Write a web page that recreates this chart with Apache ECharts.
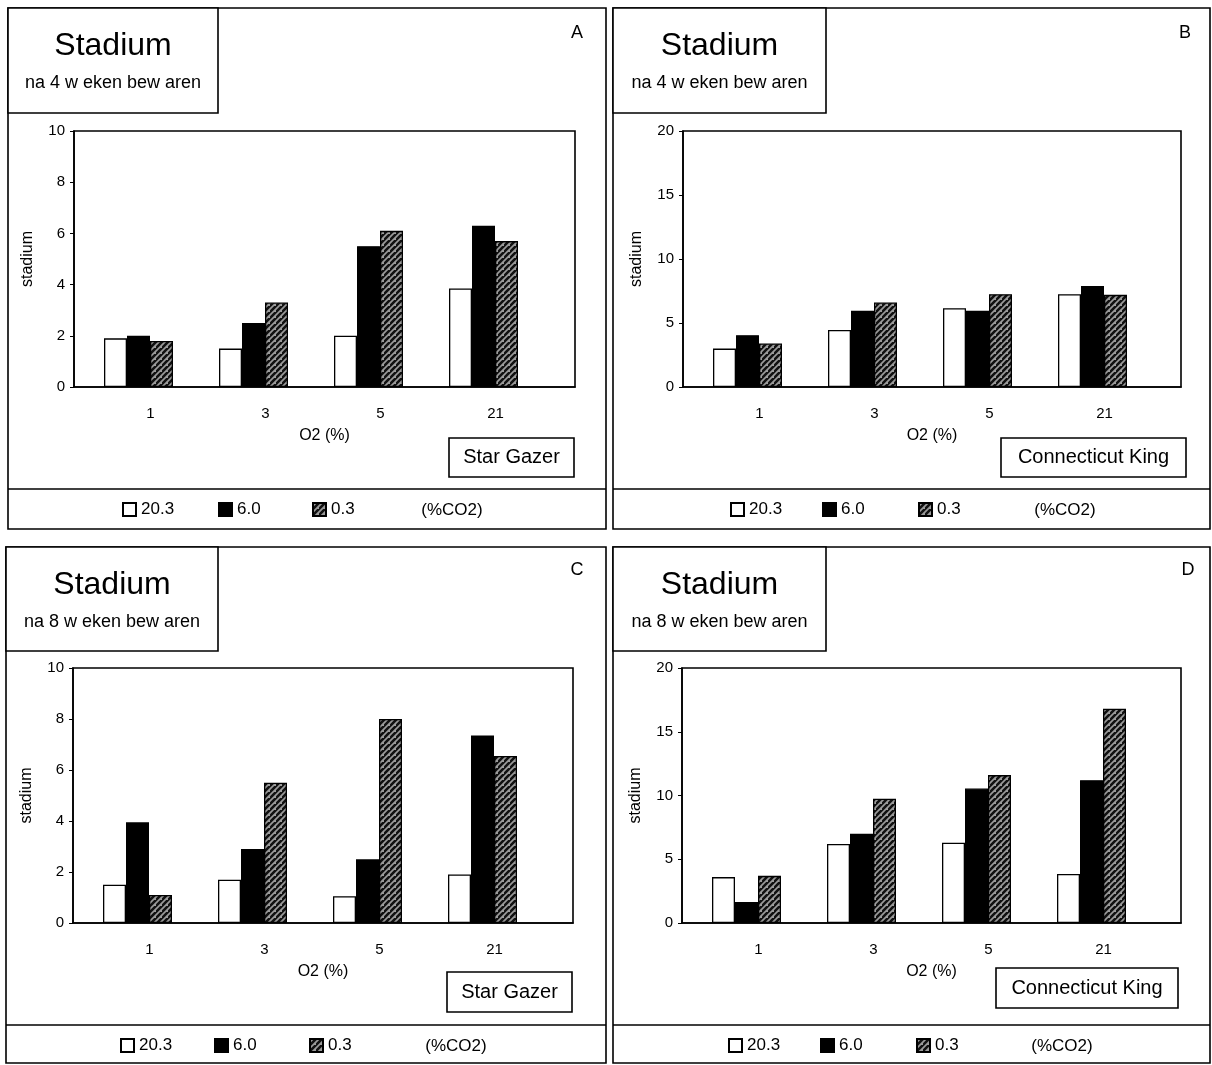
<!DOCTYPE html>
<html>
<head>
<meta charset="utf-8">
<script src="https://cdn.jsdelivr.net/npm/echarts@6/dist/echarts.min.js"></script>
<style>
html,body{margin:0;padding:0;background:#fff;}
#c{width:1212px;height:1065px;}
</style>
</head>
<body>
<div id="c"></div>
<script>
// ---------- data ----------
const categories = ['1', '3', '5', '21'];
const seriesNames = ['20.3', '6.0', '0.3'];
const co2Label = '(%CO2)';
const xName = 'O2 (%)';
const yName = 'stadium';

const A_white = [1.9, 1.5, 2.0, 3.85];
const A_black = [2.0, 2.5, 5.5, 6.3];
const A_hatch = [1.8, 3.3, 6.1, 5.7];

const B_white = [3.0, 4.45, 6.15, 7.25];
const B_black = [4.05, 5.95, 5.95, 7.9];
const B_hatch = [3.4, 6.6, 7.25, 7.2];

const C_white = [1.5, 1.7, 1.05, 1.9];
const C_black = [3.95, 2.9, 2.5, 7.35];
const C_hatch = [1.1, 5.5, 8.0, 6.55];

const D_white = [3.6, 6.2, 6.3, 3.85];
const D_black = [1.65, 7.0, 10.55, 11.2];
const D_hatch = [3.7, 9.75, 11.6, 16.8];

const yTicks10 = {max: 10, interval: 2};
const yTicks20 = {max: 20, interval: 5};

const titleMain = 'Stadium';
const sub4 = 'na 4 w eken bew aren';
const sub8 = 'na 8 w eken bew aren';

// ---------- layout ----------
const panels = [
  {letter:'A', sub:sub4, cult:'Star Gazer', vals:[A_white,A_black,A_hatch], ticks:yTicks10,
   box:[8,8,606,529], tbox:[8,8,218,113], frame:[74,131,575,387], sep:489,
   cbox:[449,438,574,477], let:[577,33], legY:510, legX:[122,218,312], co2X:452},
  {letter:'B', sub:sub4, cult:'Connecticut King', vals:[B_white,B_black,B_hatch], ticks:yTicks20,
   box:[613,8,1210,529], tbox:[613,8,826,113], frame:[683,131,1181,387], sep:489,
   cbox:[1001,438,1186,477], let:[1185,33], legY:510, legX:[730,822,918], co2X:1065},
  {letter:'C', sub:sub8, cult:'Star Gazer', vals:[C_white,C_black,C_hatch], ticks:yTicks10,
   box:[6,547,606,1063], tbox:[6,547,218,651], frame:[73,668,573,923], sep:1025,
   cbox:[447,972,572,1012], let:[577,570], legY:1046, legX:[120,214,309], co2X:456},
  {letter:'D', sub:sub8, cult:'Connecticut King', vals:[D_white,D_black,D_hatch], ticks:yTicks20,
   box:[613,547,1210,1063], tbox:[613,547,826,651], frame:[682,668,1181,923], sep:1025,
   cbox:[996,968,1178,1008], let:[1188,570], legY:1046, legX:[728,820,916], co2X:1062}
];

const FONT = '"Liberation Sans", Arial, Helvetica, sans-serif';

function hatchCanvas() {
  const s = 6;
  const c = document.createElement('canvas');
  c.width = s; c.height = s;
  const g = c.getContext('2d');
  g.fillStyle = '#9a9a9a';
  g.fillRect(0, 0, s, s);
  g.strokeStyle = '#111';
  g.lineWidth = 2.6;
  g.beginPath();
  g.moveTo(-1, s + 1); g.lineTo(s + 1, -1);
  g.moveTo(-1 - s, s + 1); g.lineTo(1, -1);
  g.moveTo(s - 1, 2 * s + 1); g.lineTo(2 * s + 1, s - 1);
  g.stroke();
  return c;
}
const hatchPattern = {image: hatchCanvas(), repeat: 'repeat'};
const fills = ['#ffffff', '#000000', hatchPattern];

const grid = [], xAxis = [], yAxis = [], series = [], legend = [], graphic = [];

panels.forEach((p, pi) => {
  const [fl, ft, fr, fb] = p.frame;
  const fw = fr - fl, fh = fb - ft;
  // frame grid
  const gFrame = grid.length;
  grid.push({left: fl, top: ft, width: fw, height: fh, show: true,
             borderColor: '#000', borderWidth: 1.6, backgroundColor: 'transparent'});
  xAxis.push({gridIndex: gFrame, type: 'value', min: 0, max: 1,
    axisLine: {show: true, lineStyle: {color: '#000', width: 1.6}},
    axisTick: {show: false}, axisLabel: {show: false}, splitLine: {show: false},
    name: xName, nameLocation: 'middle', nameGap: 41,
    nameTextStyle: {fontFamily: FONT, fontSize: 16, color: '#000'}});
  yAxis.push({gridIndex: gFrame, type: 'value', min: 0, max: p.ticks.max, interval: p.ticks.interval,
    axisLine: {show: true, lineStyle: {color: '#000', width: 1.6}},
    axisTick: {show: true, inside: false, length: 4, lineStyle: {color: '#000', width: 1}},
    axisLabel: {fontFamily: FONT, fontSize: 15, color: '#000', margin: 9},
    splitLine: {show: false},
    name: yName, nameLocation: 'middle', nameGap: 38, nameRotate: 90,
    nameTextStyle: {fontFamily: FONT, fontSize: 16, color: '#000'}});
  // bar grid
  const gBar = grid.length;
  grid.push({left: fl + 7, top: ft, width: 460, height: fh});
  xAxis.push({gridIndex: gBar, type: 'category', data: categories,
    axisLine: {show: false}, axisTick: {show: false}, splitLine: {show: false},
    axisLabel: {fontFamily: FONT, fontSize: 15, color: '#000', margin: 19, padding: [0, 0, 0, 24]}});
  yAxis.push({gridIndex: gBar, type: 'value', min: 0, max: p.ticks.max, interval: p.ticks.interval, show: false});
  seriesNames.forEach((nm, si) => {
    series.push({type: 'bar', name: nm, xAxisIndex: gBar, yAxisIndex: gBar,
      data: p.vals[si], barWidth: 23, barGap: '0%',
      itemStyle: {color: fills[si], borderColor: '#000', borderWidth: 1.3},
      emphasis: {disabled: true}, animation: false});
  });
  // legends
  seriesNames.forEach((nm, si) => {
    legend.push({data: [nm], left: p.legX[si], top: p.legY - 9, padding: 0,
      itemWidth: 13, itemHeight: 13, icon: 'rect', selectedMode: false,
      textStyle: {fontFamily: FONT, fontSize: 17, color: '#000'}});
  });
  // graphics
  const [bl, bt, br, bb] = p.box;
  graphic.push({type: 'rect', silent: true, shape: {x: bl, y: bt, width: br - bl, height: bb - bt},
    style: {fill: 'none', stroke: '#000', lineWidth: 1.6}});
  graphic.push({type: 'line', silent: true, shape: {x1: bl, y1: p.sep, x2: br, y2: p.sep},
    style: {stroke: '#000', lineWidth: 1.6}});
  const [tl, tt, tr, tb] = p.tbox;
  graphic.push({type: 'rect', silent: true, shape: {x: tl, y: tt, width: tr - tl, height: tb - tt},
    style: {fill: '#fff', stroke: '#000', lineWidth: 1.6}});
  const tcx = (tl + tr) / 2;
  graphic.push({type: 'text', silent: true, x: tcx, y: tt + 38,
    style: {text: titleMain, font: '32px ' + FONT, fill: '#000', align: 'center', verticalAlign: 'middle',
            textAlign: 'center', textVerticalAlign: 'middle'}});
  graphic.push({type: 'text', silent: true, x: tcx, y: tt + 75,
    style: {text: p.sub, font: '18px ' + FONT, fill: '#000', align: 'center', verticalAlign: 'middle',
            textAlign: 'center', textVerticalAlign: 'middle'}});
  graphic.push({type: 'text', silent: true, x: p.let[0], y: p.let[1],
    style: {text: p.letter, font: '18px ' + FONT, fill: '#000', align: 'center', verticalAlign: 'middle',
            textAlign: 'center', textVerticalAlign: 'middle'}});
  const [cl, ct, cr, cb] = p.cbox;
  graphic.push({type: 'rect', silent: true, shape: {x: cl, y: ct, width: cr - cl, height: cb - ct},
    style: {fill: '#fff', stroke: '#000', lineWidth: 1.6}});
  graphic.push({type: 'text', silent: true, x: (cl + cr) / 2, y: (ct + cb) / 2,
    style: {text: p.cult, font: '20px ' + FONT, fill: '#000', align: 'center', verticalAlign: 'middle',
            textAlign: 'center', textVerticalAlign: 'middle'}});
  graphic.push({type: 'text', silent: true, x: p.co2X, y: p.legY,
    style: {text: co2Label, font: '17px ' + FONT, fill: '#000', align: 'center', verticalAlign: 'middle',
            textAlign: 'center', textVerticalAlign: 'middle'}});
});

const chart = echarts.init(document.getElementById('c'), null, {renderer: 'canvas'});
chart.setOption({
  backgroundColor: '#fff',
  animation: false,
  grid, xAxis, yAxis, series, legend, graphic
});
</script>
</body>
</html>
